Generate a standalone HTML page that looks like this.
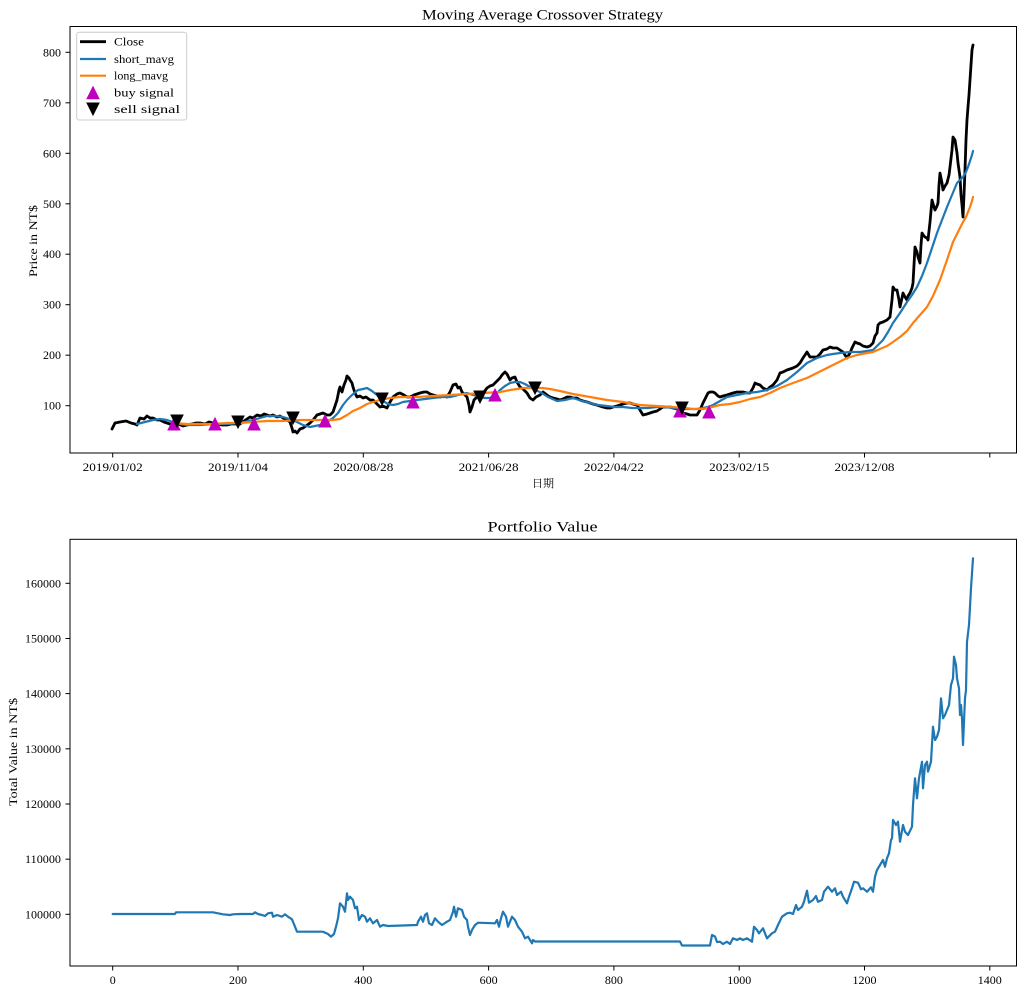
<!DOCTYPE html>
<html>
<head>
<meta charset="utf-8">
<style>
html,body{margin:0;padding:0;background:#fff;}
svg{display:block;}
text{font-family:"Liberation Serif","Noto Serif CJK SC","Noto Sans CJK SC",serif;fill:#000;}
</style>
</head>
<body>
<svg width="1024" height="994" viewBox="0 0 1024 994" xmlns="http://www.w3.org/2000/svg">
<rect x="0" y="0" width="1024" height="994" fill="#fff"/>

<!-- ===== TOP CHART ===== -->
<text x="542.5" y="19.5" font-size="14.5" text-anchor="middle" textLength="241" lengthAdjust="spacingAndGlyphs">Moving Average Crossover Strategy</text>

<!-- series -->
<polyline fill="none" stroke="#000" stroke-width="2.8" stroke-linejoin="round" stroke-linecap="round" points="112,429 115,423 120,422 126,421 131,423 135,424 137,425 140,418 144,419 147,416 150,418 153,418 157,420 160,420 164,422 167,423 170,424 173,425 178,424 183,426 187,425 192,424 196,423 200,423 205,424 209,422 213,423 218,424 222,425 227,425 231,424 236,424 240,424 244,421 247,419 250,417 253,418 257,415 261,416 264,414 267,415 270,416 273,415 277,417 280,416 283,418 287,420 290,422 292,428 293,432 295,431 297,433 300,429 303,428 306,426 310,423 313,420 317,415 320,414 323,413 327,415 330,415 333,412 335,406 337,400 339,390 340,387 342,392 344,385 346,380 347,376 349,378 350,380 352,383 353,387 355,393 357,397 360,396 363,398 366,397 370,400 373,400 377,404 380,407 383,406 387,408 390,402 393,397 397,394 400,393 404,395 407,397 410,397 414,395 417,394 420,393 424,392 427,392 430,394 433,395 437,396 440,397 444,396 447,397 450,392 453,385 456,384 458,388 460,387 462,392 463,393 465,395 467,397 469,405 470,412 472,407 474,400 477,397 480,394 484,392 487,388 490,386 493,385 496,382 498,380 500,378 502,375 505,372 507,374 510,380 512,378 515,377 517,382 520,387 523,389 527,393 530,398 533,400 536,397 540,395 543,392 547,395 550,397 553,398 557,399 560,400 563,399 567,397 570,397 573,398 577,398 580,400 583,401 587,402 590,403 593,404 597,405 600,406 603,407 607,408 610,408 613,407 617,406 620,405 623,404 627,403 630,403 633,404 637,405 640,410 643,415 647,414 650,413 653,412 657,411 660,409 663,407 667,407 670,407 673,408 677,409 680,411 683,413 687,414 690,415 693,415 697,415 700,410 703,403 706,397 708,393 710,392 713,392 715,393 718,396 720,397 723,396 727,395 730,394 733,393 737,392 740,392 743,392 747,393 750,393 753,388 755,383 757,384 760,385 763,388 767,390 770,387 773,385 777,380 780,373 783,372 787,370 790,369 793,368 797,366 800,363 803,358 807,352 810,357 813,357 817,357 820,354 823,350 827,349 830,347 833,348 837,348 840,350 843,352 845,355 847,358 850,353 852,348 855,342 857,343 860,344 863,346 867,347 870,346 873,343 875,336 877,333 878,325 880,323 883,322 887,320 890,317 892,300 893,287 895,290 897,290 899,300 900,307 902,298 903,293 905,297 907,300 908,296 910,293 912,288 913,283 914,265 915,247 917,252 918,257 920,263 921,245 922,233 924,236 925,237 927,238 928,240 930,222 932,200 934,207 935,210 937,206 938,203 939,185 940,173 942,183 943,190 945,186 947,183 949,175 950,167 952,150 953,137 955,140 957,153 958,163 960,177 961,195 962,205 963,217 964,195 965,170 966,140 967,120 968,107 969,95 970,80 971,65 972,50 973,45"/>

<polyline fill="none" stroke="#1f77b4" stroke-width="2.2" stroke-linejoin="round" stroke-linecap="round" points="137,424 145,422 153,420 160,419 167,420 173,422 180,424 187,425 200,425 213,424 227,424 240,423 253,420 260,418 267,416 275,416 283,417 290,419 297,422 303,425 310,427 315,426 320,425 327,422 333,418 338,413 343,405 347,400 352,395 358,390 363,389 367,388 372,391 377,395 383,401 388,404 393,405 398,404 403,402 410,401 417,400 425,399 433,398 441,397 450,397 458,395 467,393 473,395 480,397 485,398 490,398 495,395 500,390 505,386 510,383 515,382 520,382 525,384 530,387 535,390 540,392 548,397 557,401 565,400 573,398 582,401 590,403 598,405 607,406 615,407 623,407 632,408 640,408 648,408 657,407 665,407 673,408 682,409 690,409 697,409 703,408 708,407 713,405 720,401 727,397 737,395 747,393 757,392 767,390 777,386 787,380 797,372 807,363 817,358 827,355 833,354 840,353 850,352 860,352 867,351 873,350 878,345 883,340 888,332 893,323 900,313 907,302 912,295 917,287 922,276 927,263 932,248 937,233 942,220 947,207 952,195 957,183 960,180 963,177 966,172 968,167 970,161 972,155 973,151"/>

<polyline fill="none" stroke="#ff7f0e" stroke-width="2.2" stroke-linejoin="round" stroke-linecap="round" points="173,423 187,424 200,424 213,424 227,423 240,423 253,422 267,421 283,421 300,420 317,420 333,420 340,419 347,415 353,411 360,408 367,404 373,402 380,400 390,398 400,397 417,397 433,396 450,395 467,394 483,393 500,392 510,390 517,389 525,388 533,388 542,388 550,389 560,391 573,394 590,397 607,400 623,402 640,405 657,406 673,407 685,408 693,409 703,409 712,407 720,405 730,404 740,402 750,399 760,397 770,393 780,388 793,383 807,378 817,373 827,368 837,363 847,358 857,355 867,353 873,352 880,349 887,346 893,342 900,337 907,331 913,323 920,315 927,307 933,296 940,280 947,260 953,242 958,232 963,222 966,217 968,212 970,207 972,201 973,197"/>

<!-- buy markers -->
<g fill="#bf00bf" stroke="#bf00bf" stroke-width="1" stroke-linejoin="miter">
<polygon points="174,418 180,430 168,430"/>
<polygon points="215,418 221,430 209,430"/>
<polygon points="254,418 260,430 248,430"/>
<polygon points="325,415 331,427 319,427"/>
<polygon points="413,396 419,408 407,408"/>
<polygon points="495,389 501,401 489,401"/>
<polygon points="680,405 686,417 674,417"/>
<polygon points="709,406 715,418 703,418"/>
</g>
<!-- sell markers -->
<g fill="#000" stroke="#000" stroke-width="1">
<polygon points="171,415 183,415 177,427"/>
<polygon points="232,416 244,416 238,428"/>
<polygon points="287,412 299,412 293,424"/>
<polygon points="376,393 388,393 382,405"/>
<polygon points="474,391 486,391 480,403"/>
<polygon points="529,382 541,382 535,394"/>
<polygon points="676,402 688,402 682,414"/>
</g>

<!-- axes frame -->
<rect x="70" y="26.5" width="946.5" height="426.5" fill="none" stroke="#000" stroke-width="1"/>

<!-- x ticks top -->
<g stroke="#000" stroke-width="1">
<line x1="112.7" y1="453" x2="112.7" y2="457.5"/>
<line x1="238" y1="453" x2="238" y2="457.5"/>
<line x1="363.3" y1="453" x2="363.3" y2="457.5"/>
<line x1="488.6" y1="453" x2="488.6" y2="457.5"/>
<line x1="613.9" y1="453" x2="613.9" y2="457.5"/>
<line x1="739.2" y1="453" x2="739.2" y2="457.5"/>
<line x1="864.5" y1="453" x2="864.5" y2="457.5"/>
<line x1="989.8" y1="453" x2="989.8" y2="457.5"/>
</g>
<g font-size="12" text-anchor="middle">
<text x="112.7" y="471" textLength="60" lengthAdjust="spacingAndGlyphs">2019/01/02</text>
<text x="238" y="471" textLength="60" lengthAdjust="spacingAndGlyphs">2019/11/04</text>
<text x="363.3" y="471" textLength="60" lengthAdjust="spacingAndGlyphs">2020/08/28</text>
<text x="488.6" y="471" textLength="60" lengthAdjust="spacingAndGlyphs">2021/06/28</text>
<text x="613.9" y="471" textLength="60" lengthAdjust="spacingAndGlyphs">2022/04/22</text>
<text x="739.2" y="471" textLength="60" lengthAdjust="spacingAndGlyphs">2023/02/15</text>
<text x="864.5" y="471" textLength="60" lengthAdjust="spacingAndGlyphs">2023/12/08</text>
</g>
<text x="543" y="487" font-size="11" text-anchor="middle">日期</text>

<!-- y ticks top -->
<g stroke="#000" stroke-width="1">
<line x1="65.5" y1="405.7" x2="70" y2="405.7"/>
<line x1="65.5" y1="355.2" x2="70" y2="355.2"/>
<line x1="65.5" y1="304.7" x2="70" y2="304.7"/>
<line x1="65.5" y1="254.2" x2="70" y2="254.2"/>
<line x1="65.5" y1="203.8" x2="70" y2="203.8"/>
<line x1="65.5" y1="153.3" x2="70" y2="153.3"/>
<line x1="65.5" y1="102.8" x2="70" y2="102.8"/>
<line x1="65.5" y1="52.3" x2="70" y2="52.3"/>
</g>
<g font-size="12" text-anchor="end">
<text x="61" y="409.7" textLength="18" lengthAdjust="spacingAndGlyphs">100</text>
<text x="61" y="359.2" textLength="18" lengthAdjust="spacingAndGlyphs">200</text>
<text x="61" y="308.7" textLength="18" lengthAdjust="spacingAndGlyphs">300</text>
<text x="61" y="258.2" textLength="18" lengthAdjust="spacingAndGlyphs">400</text>
<text x="61" y="207.8" textLength="18" lengthAdjust="spacingAndGlyphs">500</text>
<text x="61" y="157.3" textLength="18" lengthAdjust="spacingAndGlyphs">600</text>
<text x="61" y="106.8" textLength="18" lengthAdjust="spacingAndGlyphs">700</text>
<text x="61" y="56.3" textLength="18" lengthAdjust="spacingAndGlyphs">800</text>
</g>
<text transform="translate(37,241) rotate(-90)" font-size="12" text-anchor="middle" textLength="72" lengthAdjust="spacingAndGlyphs">Price in NT$</text>

<!-- legend -->
<rect x="76.7" y="32.3" width="110" height="87.7" rx="2.5" ry="2.5" fill="#fff" fill-opacity="0.8" stroke="#cccccc" stroke-width="1"/>
<line x1="80" y1="41.7" x2="106" y2="41.7" stroke="#000" stroke-width="2.8"/>
<line x1="80" y1="59" x2="106" y2="59" stroke="#1f77b4" stroke-width="2.2"/>
<line x1="80" y1="75.7" x2="106" y2="75.7" stroke="#ff7f0e" stroke-width="2.2"/>
<polygon points="93,86.7 99,98.7 87,98.7" fill="#bf00bf" stroke="#bf00bf" stroke-width="1"/>
<polygon points="87,103 99,103 93,115" fill="#000" stroke="#000" stroke-width="1"/>
<g font-size="12">
<text x="114" y="45.7" textLength="30" lengthAdjust="spacingAndGlyphs">Close</text>
<text x="114" y="63" textLength="60" lengthAdjust="spacingAndGlyphs">short_mavg</text>
<text x="114" y="79.7" textLength="54" lengthAdjust="spacingAndGlyphs">long_mavg</text>
<text x="114" y="96.7" textLength="60" lengthAdjust="spacingAndGlyphs">buy signal</text>
<text x="114" y="113" textLength="66" lengthAdjust="spacingAndGlyphs">sell signal</text>
</g>

<!-- ===== BOTTOM CHART ===== -->
<text x="542.5" y="531.5" font-size="14.5" text-anchor="middle" textLength="110" lengthAdjust="spacingAndGlyphs">Portfolio Value</text>

<polyline fill="none" stroke="#1f77b4" stroke-width="2.2" stroke-linejoin="round" stroke-linecap="round" points="112.7,914 175,914 176,912.3 213,912.3 218,913.3 223,914.3 230,915 233,914.3 240,914 253,914 255,912.3 258,914 262,915 265,916 268,913.3 272,912.7 273,916.7 277,915 282,916.7 285,914.3 288,916.7 292,919.3 295,926.7 297,931.7 323,931.7 328,934 331,936.7 334,934 336,926.7 338,918.3 340,903.3 343,906.7 345,911.7 347,893.3 348,900 350,896.7 353,900 355,908.3 357,906.7 359,920 362,915 365,916.7 367,921.7 370,918.3 373,923.3 377,920 380,926.7 383,925 388,926 417,925 418,921.7 421,916.7 423,921.7 425,915 427,913.3 429,923.3 432,925 435,918.3 438,921.7 442,925 447,921.7 450,920 453,911.7 454,906.7 456,916.7 458,908.3 462,910 464,916.7 467,920 468,926.7 470,935 472,930 475,925 478,922.7 495,923.3 497,920 499,926.7 501,918.3 503,911.7 506,916.7 508,926.7 512,916.7 515,920 518,926.7 522,931.7 525,938.3 528,936.7 532,943.3 533,940 535,941.5 680,941.5 682,945.5 710,945.5 712,935 715,936.5 717,942 720,941.7 723,944 727,941.7 730,944 733,938.3 737,940 740,938.3 743,940 747,938.3 752,941.7 754,926.7 757,930 759,933.3 763,928.3 765,933.3 767,938.3 772,933.3 775,931.7 778,925 782,916.7 787,913.3 790,912.7 793,914 796,905 798,910 802,906.7 804,901.7 807,890.7 809,902.7 813,900 816,896 818,901.7 822,900 824,891.7 828,886.7 832,891.7 835,888.3 837,895 841,891.7 843,896.7 847,903.3 849,896.7 852,888.3 854,881.7 858,882.7 861,889.3 863,888.3 867,891.7 871,887.3 873,891.7 875,876.7 877,870 880,865 883,860 885,866.7 887,858.3 889,853.3 891,840 892,838.3 893,820 896,825 898,821.7 900,841.7 903,825 905,831.7 908,835 912,826.7 913,805 915,778.3 917,798.3 919,778.3 922,761.7 923,788.3 925,765 927,761.7 928,771.7 931,761.7 933,726.7 935,740 937,736.7 939,730 941,698.3 943,718.3 945,715 947,710 949,705 951,685 953,678.3 954,656.7 956,665 957,678.3 959,688.3 960,715 961,705 962,718.3 963,745 965,698.3 966,690 967,641.7 969,625 971,588.3 973,558.3"/>

<rect x="70" y="539.3" width="946.5" height="426.7" fill="none" stroke="#000" stroke-width="1"/>

<!-- x ticks bottom -->
<g stroke="#000" stroke-width="1">
<line x1="112.7" y1="966" x2="112.7" y2="970.5"/>
<line x1="238" y1="966" x2="238" y2="970.5"/>
<line x1="363.3" y1="966" x2="363.3" y2="970.5"/>
<line x1="488.6" y1="966" x2="488.6" y2="970.5"/>
<line x1="613.9" y1="966" x2="613.9" y2="970.5"/>
<line x1="739.2" y1="966" x2="739.2" y2="970.5"/>
<line x1="864.5" y1="966" x2="864.5" y2="970.5"/>
<line x1="989.8" y1="966" x2="989.8" y2="970.5"/>
</g>
<g font-size="12" text-anchor="middle">
<text x="112.7" y="984">0</text>
<text x="238" y="984" textLength="18" lengthAdjust="spacingAndGlyphs">200</text>
<text x="363.3" y="984" textLength="18" lengthAdjust="spacingAndGlyphs">400</text>
<text x="488.6" y="984" textLength="18" lengthAdjust="spacingAndGlyphs">600</text>
<text x="613.9" y="984" textLength="18" lengthAdjust="spacingAndGlyphs">800</text>
<text x="739.2" y="984" textLength="24" lengthAdjust="spacingAndGlyphs">1000</text>
<text x="864.5" y="984" textLength="24" lengthAdjust="spacingAndGlyphs">1200</text>
<text x="989.8" y="984" textLength="24" lengthAdjust="spacingAndGlyphs">1400</text>
</g>

<!-- y ticks bottom -->
<g stroke="#000" stroke-width="1">
<line x1="65.5" y1="914.3" x2="70" y2="914.3"/>
<line x1="65.5" y1="859.2" x2="70" y2="859.2"/>
<line x1="65.5" y1="804" x2="70" y2="804"/>
<line x1="65.5" y1="748.8" x2="70" y2="748.8"/>
<line x1="65.5" y1="693.6" x2="70" y2="693.6"/>
<line x1="65.5" y1="638.5" x2="70" y2="638.5"/>
<line x1="65.5" y1="583.3" x2="70" y2="583.3"/>
</g>
<g font-size="12" text-anchor="end">
<text x="61" y="918.3" textLength="36" lengthAdjust="spacingAndGlyphs">100000</text>
<text x="61" y="863.2" textLength="36" lengthAdjust="spacingAndGlyphs">110000</text>
<text x="61" y="808" textLength="36" lengthAdjust="spacingAndGlyphs">120000</text>
<text x="61" y="752.8" textLength="36" lengthAdjust="spacingAndGlyphs">130000</text>
<text x="61" y="697.6" textLength="36" lengthAdjust="spacingAndGlyphs">140000</text>
<text x="61" y="642.5" textLength="36" lengthAdjust="spacingAndGlyphs">150000</text>
<text x="61" y="587.3" textLength="36" lengthAdjust="spacingAndGlyphs">160000</text>
</g>
<text transform="translate(17,752) rotate(-90)" font-size="12" text-anchor="middle" textLength="108" lengthAdjust="spacingAndGlyphs">Total Value in NT$</text>
</svg>
</body>
</html>
